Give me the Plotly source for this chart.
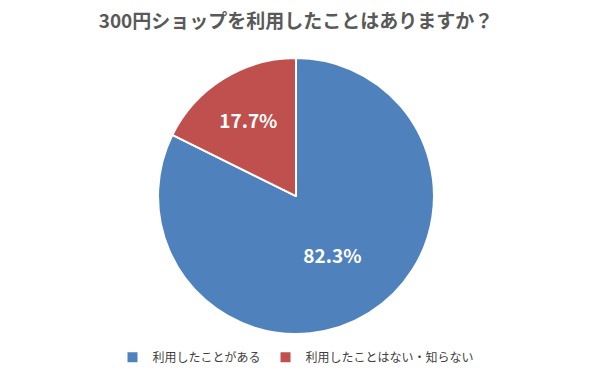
import plotly.graph_objects as go

labels = ["利用したことがある", "利用したことはない・知らない"]
values = [82.3, 17.7]
colors = ["#4F81BD", "#C0504D"]
title_text = "300円ショップを利用したことはありますか？"

fig = go.Figure(go.Pie(
    labels=labels,
    values=values,
    sort=False,
    direction="clockwise",
    rotation=0,
    marker=dict(colors=colors, line=dict(color="white", width=2)),
    texttemplate="<b>%{percent:.1%}</b>",
    textposition="inside",
    insidetextorientation="horizontal",
    textfont=dict(color="white", size=19, family="Noto Sans CJK JP"),
    hoverinfo="label+percent",
    domain=dict(x=[0.2669, 0.7331], y=[0.1257, 0.848]),
))

fig.update_layout(
    width=592, height=382,
    margin=dict(l=0, r=0, t=0, b=0),
    paper_bgcolor="white",
    font=dict(family="Noto Sans CJK JP", color="#404040"),
    title=dict(text="<b>" + title_text + "</b>", x=0.5, xanchor="center", y=0.945, yanchor="middle",
               font=dict(size=19, color="#595959", family="Noto Sans CJK JP")),
    legend=dict(orientation="h", x=0.5, xanchor="center", y=0.065, yanchor="middle",
                font=dict(size=12, color="#404040"), itemwidth=30),
)

fig.write_html("out.html", post_script="document.body.style.margin='0';",
               config={"displayModeBar": False})
